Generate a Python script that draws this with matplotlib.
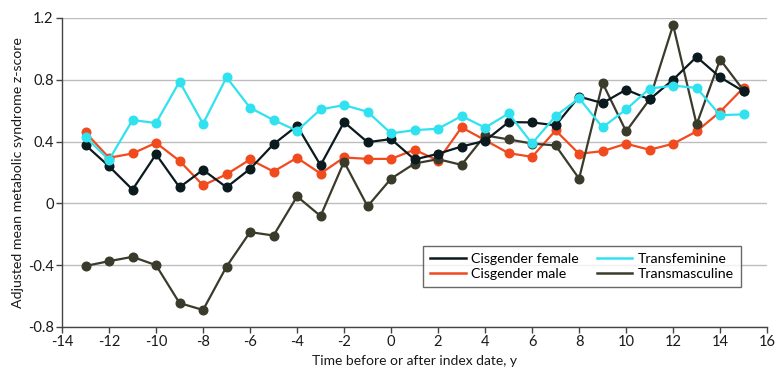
import matplotlib
matplotlib.use("Agg")
import matplotlib.pyplot as plt
from matplotlib.lines import Line2D

plt.rcParams['font.family'] = ['Lato', 'DejaVu Sans']

years = list(range(-13, 16))

cis_female = [0.377, 0.24, 0.089, 0.318, 0.104, 0.217, 0.104, 0.223, 0.383, 0.502,
              0.247, 0.526, 0.396, 0.416, 0.284, 0.321, 0.368, 0.405, 0.526, 0.524,
              0.505, 0.691, 0.649, 0.736, 0.673, 0.801, 0.948, 0.816, 0.725]
cis_male = [0.459, 0.295, 0.323, 0.392, 0.275, 0.117, 0.188, 0.284, 0.206, 0.295,
            0.193, 0.297, 0.288, 0.288, 0.347, 0.277, 0.492, 0.409, 0.325, 0.301,
            0.472, 0.321, 0.338, 0.386, 0.347, 0.386, 0.466, 0.593, 0.749]
transfeminine = [0.429, 0.282, 0.539, 0.52, 0.788, 0.515, 0.816, 0.619, 0.539, 0.47,
                 0.608, 0.636, 0.593, 0.453, 0.474, 0.483, 0.565, 0.49, 0.582, 0.388,
                 0.565, 0.68, 0.492, 0.608, 0.743, 0.762, 0.747, 0.571, 0.576]
transmasculine = [-0.405, -0.374, -0.346, -0.40, -0.645, -0.69, -0.409, -0.186, -0.208, 0.045,
                  -0.082, 0.269, -0.019, 0.16, 0.258, 0.286, 0.249, 0.44, 0.414, 0.387,
                  0.375, 0.16, 0.779, 0.466, 0.673, 1.154, 0.511, 0.931, 0.73]

labels = ["Cisgender female", "Cisgender male", "Transfeminine", "Transmasculine"]
colors = {"Cisgender female": "#0b1a1f", "Cisgender male": "#f04a1e",
          "Transfeminine": "#30e2ef", "Transmasculine": "#3b3b2c"}

xticks = list(range(-14, 17, 2))
yticks = [-0.8, -0.4, 0, 0.4, 0.8, 1.2]
ytick_labels = ["-0.8", "-0.4", "0", "0.4", "0.8", "1.2"]
xtick_labels = [str(t) for t in xticks]

fig = plt.figure(figsize=(7.8, 3.82), dpi=100)
ax = fig.add_axes([0.0795, 0.144, 0.904, 0.809])

series = {"Cisgender female": cis_female, "Cisgender male": cis_male,
          "Transfeminine": transfeminine, "Transmasculine": transmasculine}
zorders = {"Cisgender male": 3, "Transmasculine": 4, "Cisgender female": 5, "Transfeminine": 6}
for name in labels:
    ax.plot(years, series[name], color=colors[name], lw=1.6, marker='o', ms=6.2,
            zorder=zorders[name], clip_on=False)

ax.set_xlim(-14, 16)
ax.set_ylim(-0.8, 1.2)
ax.set_xticks(xticks)
ax.set_xticklabels(xtick_labels)
ax.set_yticks(yticks)
ax.set_yticklabels(ytick_labels)
ax.grid(axis='y', color='#bdbdbd', lw=1.0, zorder=0)
ax.set_axisbelow(True)
for s in ['top', 'right']:
    ax.spines[s].set_visible(False)
for s in ['left', 'bottom']:
    ax.spines[s].set_color('#444444')
    ax.spines[s].set_linewidth(1.0)
ax.tick_params(axis='both', direction='out', length=4, width=1, color='#444444',
               labelsize=10.5, labelcolor='#1a1a1a', pad=2)
ax.set_xlabel("Time before or after index date, y", fontsize=10, color='#1a1a1a', labelpad=4)
ax.set_ylabel("Adjusted mean metabolic syndrome z-score", fontsize=10.2, color='#1a1a1a', labelpad=3)

handles = [Line2D([0], [0], color=colors[n], lw=1.8) for n in labels]
leg = ax.legend(handles, labels, ncol=2, loc='upper left',
                bbox_to_anchor=(0.512, 0.262), borderaxespad=0,
                fontsize=10.2, frameon=True, fancybox=False, edgecolor='#444444',
                handlelength=2.5, handletextpad=0.4, columnspacing=1.25,
                borderpad=0.5, labelspacing=0.2)
leg.get_frame().set_linewidth(1.0)
leg.set_zorder(10)

fig.savefig("out.png", dpi=100)
